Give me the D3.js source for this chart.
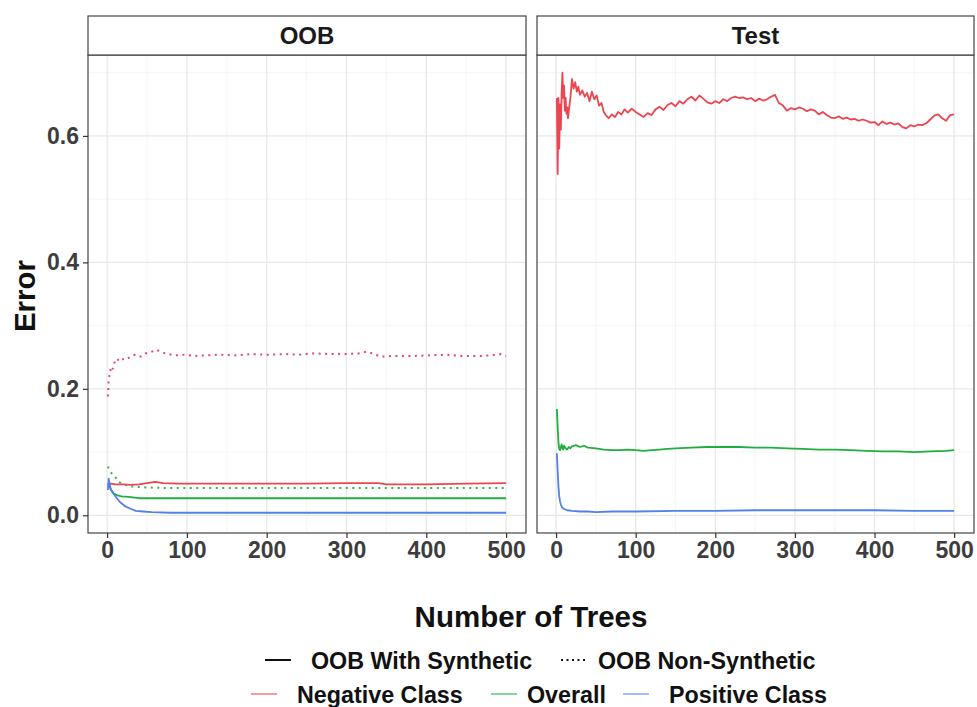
<!DOCTYPE html>
<html>
<head>
<meta charset="utf-8">
<script src="https://cdn.jsdelivr.net/npm/d3@7"></script>
<style>
  html, body { margin: 0; padding: 0; background: #ffffff; }
  svg { display: block; font-family: "Liberation Sans", Arial, sans-serif; }
</style>
</head>
<body>
<svg id="chart" width="977" height="707"></svg>
<script>
// ---------------- DATA ----------------
const panels = ["OOB", "Test"];
const classes = ["Negative Class", "Overall", "Positive Class"];
const sources = ["OOB With Synthetic", "OOB Non-Synthetic"];
const xTicks = [0, 100, 200, 300, 400, 500];
const yTicks = [0.0, 0.2, 0.4, 0.6];
const yTickLabels = ["0.0", "0.2", "0.4", "0.6"];

// OOB panel – with synthetic (solid)
const oobSynNegative = [[1,0.045],[2,0.047],[3,0.049],[5,0.050],[10,0.049],[20,0.049],[30,0.048],[40,0.049],[50,0.051],[60,0.053],[70,0.051],[90,0.050],[120,0.050],[160,0.050],[200,0.050],[250,0.050],[300,0.051],[340,0.051],[350,0.049],[400,0.049],[450,0.050],[500,0.051]];
const oobSynOverall = [[1,0.048],[2,0.050],[3,0.045],[5,0.040],[8,0.035],[12,0.032],[18,0.030],[27,0.029],[40,0.027],[60,0.027],[100,0.027],[200,0.027],[300,0.027],[400,0.027],[500,0.027]];
const oobSynPositive = [[1,0.040],[2,0.058],[3,0.050],[5,0.040],[8,0.034],[11,0.029],[16,0.021],[23,0.014],[30,0.010],[36,0.007],[45,0.006],[56,0.005],[80,0.004],[150,0.004],[250,0.004],[350,0.004],[450,0.004],[500,0.004]];
// OOB panel – non-synthetic (dotted)
const oobNonNegative = [[1,0.188],[2,0.214],[4,0.230],[6,0.226],[8,0.238],[10,0.244],[12,0.248],[16,0.243],[20,0.247],[24,0.246],[30,0.252],[36,0.254],[42,0.251],[48,0.256],[55,0.258],[61,0.262],[67,0.259],[73,0.256],[85,0.253],[98,0.254],[110,0.252],[125,0.253],[140,0.254],[160,0.253],[182,0.255],[200,0.254],[224,0.255],[240,0.254],[259,0.256],[280,0.255],[301,0.255],[315,0.256],[326,0.259],[335,0.255],[342,0.251],[360,0.252],[384,0.252],[405,0.253],[426,0.254],[445,0.252],[468,0.252],[480,0.253],[493,0.255],[500,0.252]];
const oobNonOverall = [[1,0.077],[3,0.071],[6,0.066],[10,0.061],[14,0.053],[20,0.049],[28,0.046],[36,0.045],[50,0.044],[80,0.043],[150,0.043],[250,0.043],[350,0.043],[450,0.043],[500,0.043]];

// Test panel
const testNegative = [[1,0.660],[2,0.540],[3,0.660],[4,0.580],[5,0.650],[6,0.610],[7,0.670],[8,0.700],[9,0.660],[10,0.680],[11,0.640],[12,0.660],[13,0.635],[14,0.645],[15,0.628],[16,0.640],[18,0.660],[20,0.690],[22,0.675],[24,0.685],[26,0.670],[28,0.678],[30,0.665],[33,0.672],[36,0.662],[39,0.668],[42,0.655],[45,0.670],[48,0.658],[51,0.664],[54,0.648],[57,0.652],[60,0.638],[63,0.632],[66,0.628],[70,0.634],[74,0.630],[78,0.638],[82,0.634],[86,0.642],[90,0.637],[95,0.643],[100,0.638],[105,0.634],[110,0.630],[115,0.636],[120,0.633],[125,0.642],[130,0.646],[135,0.641],[140,0.649],[145,0.652],[150,0.647],[155,0.655],[160,0.651],[165,0.658],[170,0.662],[175,0.656],[180,0.664],[185,0.659],[190,0.653],[195,0.651],[200,0.655],[205,0.652],[210,0.658],[215,0.655],[220,0.660],[225,0.662],[230,0.660],[235,0.661],[240,0.658],[245,0.660],[250,0.655],[255,0.659],[260,0.656],[265,0.658],[270,0.662],[275,0.665],[280,0.652],[285,0.648],[290,0.640],[295,0.644],[300,0.642],[305,0.645],[310,0.643],[315,0.639],[320,0.642],[325,0.640],[330,0.634],[335,0.638],[340,0.633],[345,0.629],[350,0.628],[355,0.631],[360,0.627],[365,0.629],[370,0.626],[375,0.627],[380,0.624],[385,0.626],[390,0.624],[395,0.621],[400,0.622],[405,0.617],[410,0.623],[415,0.619],[420,0.621],[425,0.618],[430,0.620],[435,0.614],[440,0.612],[445,0.617],[450,0.615],[455,0.618],[460,0.617],[465,0.620],[470,0.626],[475,0.632],[480,0.634],[485,0.628],[490,0.624],[495,0.633],[500,0.634]];
const testOverall = [[1,0.168],[2,0.140],[3,0.115],[4,0.105],[5,0.103],[6,0.108],[7,0.112],[8,0.106],[9,0.104],[10,0.110],[12,0.106],[14,0.104],[16,0.108],[18,0.106],[20,0.109],[25,0.111],[30,0.108],[35,0.110],[40,0.107],[50,0.106],[60,0.104],[70,0.103],[80,0.103],[90,0.104],[100,0.103],[110,0.102],[120,0.103],[130,0.104],[140,0.105],[150,0.106],[170,0.107],[190,0.108],[210,0.108],[230,0.108],[250,0.107],[270,0.107],[290,0.106],[310,0.105],[330,0.104],[350,0.104],[370,0.103],[390,0.102],[410,0.101],[430,0.101],[450,0.100],[470,0.101],[490,0.102],[500,0.103]];
const testPositive = [[1,0.098],[2,0.070],[3,0.045],[4,0.030],[5,0.022],[6,0.017],[7,0.014],[8,0.012],[10,0.010],[14,0.008],[20,0.007],[30,0.006],[40,0.006],[50,0.005],[70,0.006],[100,0.006],[150,0.007],[200,0.007],[250,0.008],[300,0.008],[350,0.008],[400,0.008],[450,0.007],[500,0.007]];

// series definitions: panel, class, source, values
const seriesList = [
  { panel: "OOB",  cls: "Negative Class", src: "OOB Non-Synthetic", values: oobNonNegative },
  { panel: "OOB",  cls: "Overall",        src: "OOB Non-Synthetic", values: oobNonOverall },
  { panel: "OOB",  cls: "Negative Class", src: "OOB With Synthetic", values: oobSynNegative },
  { panel: "OOB",  cls: "Overall",        src: "OOB With Synthetic", values: oobSynOverall },
  { panel: "OOB",  cls: "Positive Class", src: "OOB With Synthetic", values: oobSynPositive },
  { panel: "Test", cls: "Negative Class", src: "OOB With Synthetic", values: testNegative },
  { panel: "Test", cls: "Overall",        src: "OOB With Synthetic", values: testOverall },
  { panel: "Test", cls: "Positive Class", src: "OOB With Synthetic", values: testPositive }
];

// ---------------- DRAWING ----------------
const svg = d3.select("#chart");
const color = d3.scaleOrdinal().domain(classes).range(["#ec4450", "#1fae3f", "#5282e8"]);
const dotColor = d3.scaleOrdinal().domain(classes).range(["#dc4a70", "#2db54a", "#5282e8"]);
const dash = d3.scaleOrdinal().domain(sources).range([null, "2,4.5"]);

const plotTop = 55, plotBottom = 533, stripTop = 16;
const panelX = { "OOB": [88, 526], "Test": [537, 974] };
const xDomain = [1 - 0.05 * 499, 500 + 0.05 * 499];
const y = d3.scaleLinear().domain([-0.028, 0.728]).range([plotBottom, plotTop]);

const tickColor = "#333333";
const labelColor = "#3d3d3d";
const tickFont = 23;

panels.forEach(p => {
  const [x0, x1] = panelX[p];
  const x = d3.scaleLinear().domain(xDomain).range([x0, x1]);
  const g = svg.append("g");

  g.append("rect").attr("x", x0).attr("y", plotTop).attr("width", x1 - x0).attr("height", plotBottom - plotTop).attr("fill", "#fff");

  // minor grid
  const xMinor = [50, 150, 250, 350, 450];
  const yMinor = [0.1, 0.3, 0.5, 0.7];
  g.selectAll(".xminor").data(xMinor).enter().append("line")
    .attr("x1", d => x(d)).attr("x2", d => x(d)).attr("y1", plotTop).attr("y2", plotBottom)
    .attr("stroke", "#f2f2f2").attr("stroke-width", 0.8);
  g.selectAll(".yminor").data(yMinor).enter().append("line")
    .attr("x1", x0).attr("x2", x1).attr("y1", d => y(d)).attr("y2", d => y(d))
    .attr("stroke", "#f2f2f2").attr("stroke-width", 0.8);
  // major grid
  g.selectAll(".xmajor").data(xTicks).enter().append("line")
    .attr("x1", d => x(d)).attr("x2", d => x(d)).attr("y1", plotTop).attr("y2", plotBottom)
    .attr("stroke", "#e8e8e8").attr("stroke-width", 1.3);
  g.selectAll(".ymajor").data(yTicks).enter().append("line")
    .attr("x1", x0).attr("x2", x1).attr("y1", d => y(d)).attr("y2", d => y(d))
    .attr("stroke", "#e8e8e8").attr("stroke-width", 1.3);

  // series lines
  const line = d3.line().x(d => x(d[0])).y(d => y(d[1]));
  seriesList.filter(s => s.panel === p).forEach(s => {
    const dotted = s.src === "OOB Non-Synthetic";
    g.append("path").datum(s.values)
      .attr("d", line)
      .attr("fill", "none")
      .attr("stroke", dotted ? dotColor(s.cls) : color(s.cls))
      .attr("stroke-width", dotted ? 2 : 1.8)
      .attr("stroke-dasharray", dash(s.src))
      .attr("stroke-linejoin", "round");
  });

  // panel border
  g.append("rect").attr("x", x0).attr("y", plotTop).attr("width", x1 - x0).attr("height", plotBottom - plotTop)
    .attr("fill", "none").attr("stroke", "#444").attr("stroke-width", 1.2);

  // strip
  g.append("rect").attr("x", x0).attr("y", stripTop).attr("width", x1 - x0).attr("height", plotTop - stripTop)
    .attr("fill", "#fff").attr("stroke", "#444").attr("stroke-width", 1.2);
  g.append("text").attr("x", (x0 + x1) / 2).attr("y", (stripTop + plotTop) / 2 + 8.5)
    .attr("text-anchor", "middle").attr("font-size", 24).attr("font-weight", "bold").attr("fill", "#1a1a1a").text(p);

  // x axis
  const xAxis = g.append("g").attr("transform", `translate(0,${plotBottom})`)
    .call(d3.axisBottom(x).tickValues(xTicks).tickSize(5).tickPadding(4).tickFormat(d3.format("d")));
  xAxis.select(".domain").remove();
  xAxis.selectAll("line").attr("stroke", tickColor).attr("stroke-width", 1.2);
  xAxis.selectAll("text").attr("font-size", tickFont).attr("font-weight", "bold").attr("fill", labelColor)
    .attr("font-family", "Liberation Sans, Arial, sans-serif");

  if (p === "OOB") {
    const yAxis = g.append("g").attr("transform", `translate(${x0},0)`)
      .call(d3.axisLeft(y).tickValues(yTicks).tickSize(5).tickPadding(4).tickFormat((d, i) => yTickLabels[i]));
    yAxis.select(".domain").remove();
    yAxis.selectAll("line").attr("stroke", tickColor).attr("stroke-width", 1.2);
    yAxis.selectAll("text").attr("font-size", tickFont).attr("font-weight", "bold").attr("fill", labelColor)
      .attr("font-family", "Liberation Sans, Arial, sans-serif");
  }
});

// axis titles
svg.append("text").attr("x", 531).attr("y", 627).attr("text-anchor", "middle")
  .attr("font-size", 29.5).attr("font-weight", "bold").attr("fill", "#111").text("Number of Trees");
svg.append("text").attr("transform", "translate(35,296) rotate(-90)").attr("text-anchor", "middle")
  .attr("font-size", 29.5).attr("font-weight", "bold").attr("fill", "#111").text("Error");

// legend
const legFont = 23.3;
const leg1 = [
  { key: sources[0], kx: 265, tx: 311, stroke: "#111", dash: null },
  { key: sources[1], kx: 561, tx: 598, stroke: "#111", dash: "2,3.5" }
];
const leg2 = [
  { key: classes[0], kx: 251, tx: 297 },
  { key: classes[1], kx: 491, tx: 527 },
  { key: classes[2], kx: 623, tx: 669 }
];
const legRow1 = 660, legRow2 = 694;
leg1.forEach(d => {
  svg.append("line").attr("x1", d.kx).attr("x2", d.kx + 26).attr("y1", legRow1).attr("y2", legRow1)
    .attr("stroke", d.stroke).attr("stroke-width", 2).attr("stroke-dasharray", d.dash);
  svg.append("text").attr("x", d.tx).attr("y", legRow1 + 8.5).attr("font-size", legFont).attr("font-weight", "bold")
    .attr("fill", "#111").text(d.key);
});
leg2.forEach(d => {
  svg.append("line").attr("x1", d.kx).attr("x2", d.kx + 26).attr("y1", legRow2).attr("y2", legRow2)
    .attr("stroke", color(d.key)).attr("stroke-width", 1.5).attr("opacity", 0.7);
  svg.append("text").attr("x", d.tx).attr("y", legRow2 + 8.5).attr("font-size", legFont).attr("font-weight", "bold")
    .attr("fill", "#111").text(d.key);
});
</script>
</body>
</html>
